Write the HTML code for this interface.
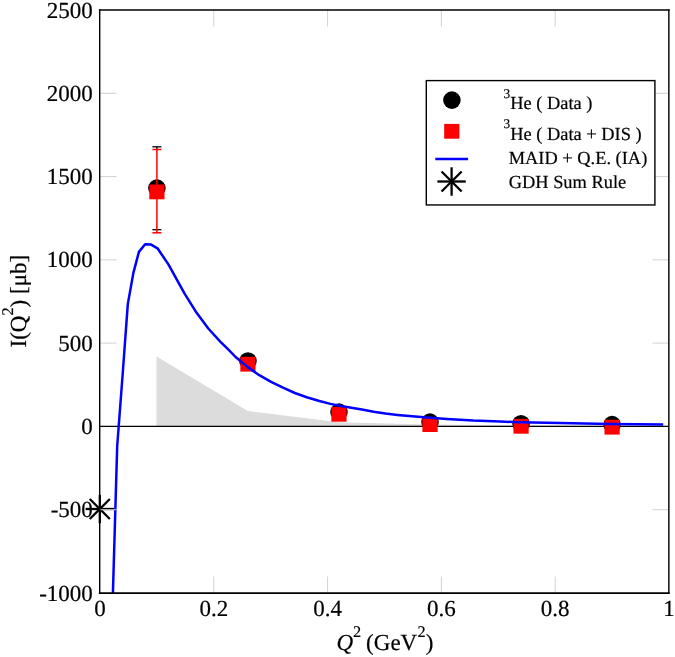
<!DOCTYPE html>
<html><head><meta charset="utf-8"><title>I(Q2)</title>
<style>html,body{margin:0;padding:0;background:#fff;}svg{display:block;will-change:transform;}text{font-family:"Liberation Serif",serif;fill:#000;stroke:#000;stroke-width:0.2px;text-rendering:geometricPrecision;}</style></head><body>
<svg width="675" height="657" viewBox="0 0 675 657">
<rect x="0" y="0" width="675" height="657" fill="#fff"/>
<polygon fill="#dcdcdc" points="156.5,426.4 156.5,356.5 247.9,411.1 339.0,422.3 430.0,424.4 521.1,425.3 612.1,425.8 612.1,426.4"/>
<line x1="100.0" y1="426.43" x2="669.0" y2="426.43" stroke="#000" stroke-width="1.3"/>
<g stroke="#000" stroke-width="1.3"><line x1="156.90" y1="146.8" x2="156.90" y2="150"/><line x1="152.40" y1="146.8" x2="161.40" y2="146.8"/><line x1="152.40" y1="229.7" x2="161.40" y2="229.7"/></g>
<circle cx="156.90" cy="188.10" r="8.8" fill="#000"/>
<circle cx="247.94" cy="361.00" r="8.8" fill="#000"/>
<circle cx="338.98" cy="412.10" r="8.8" fill="#000"/>
<circle cx="430.02" cy="422.10" r="8.8" fill="#000"/>
<circle cx="521.06" cy="423.80" r="8.8" fill="#000"/>
<circle cx="612.10" cy="424.60" r="8.8" fill="#000"/>
<g stroke="#ff0000" stroke-width="1.5" fill="none"><line x1="156.90" y1="149.50" x2="156.90" y2="232.80"/><line x1="152.40" y1="149.50" x2="161.40" y2="149.50"/><line x1="152.40" y1="232.80" x2="161.40" y2="232.80"/></g>
<rect x="149.30" y="184.50" width="15.2" height="14.8" fill="#ff0000"/>
<rect x="240.34" y="356.80" width="15.2" height="14.8" fill="#ff0000"/>
<rect x="331.38" y="406.90" width="15.2" height="14.8" fill="#ff0000"/>
<rect x="422.42" y="417.20" width="15.2" height="14.8" fill="#ff0000"/>
<rect x="513.46" y="418.90" width="15.2" height="14.8" fill="#ff0000"/>
<rect x="604.50" y="419.80" width="15.2" height="14.8" fill="#ff0000"/>
<polyline fill="none" stroke="#0000ff" stroke-width="2.5" stroke-linejoin="round" points="112.9,593.5 117.2,446.0 122.9,371.0 127.8,304.1 133.4,272.9 138.9,251.9 145.1,244.2 151.1,244.6 157.5,248.3 168.4,264.4 184.6,293.6 196.6,312.8 208.3,328.5 220.5,341.8 227.7,348.9 235.6,357.0 247.4,366.9 259.3,375.2 271.1,381.8 283.0,387.7 294.8,393.0 306.7,397.2 318.5,400.8 330.4,403.9 342.2,406.3 361.9,409.6 373.7,411.8 385.5,413.5 397.4,414.9 409.2,416.1 421.0,417.1 446.7,418.9 473.3,420.5 500.0,421.5 520.0,422.3 560.0,423.1 610.0,424.0 663.2,424.4"/>
<g stroke="#000" stroke-width="2.3" fill="none"><line x1="85.60" y1="509.00" x2="114.00" y2="509.00"/><line x1="99.80" y1="494.80" x2="99.80" y2="523.20"/><line x1="89.76" y1="498.96" x2="109.84" y2="519.04"/><line x1="89.76" y1="519.04" x2="109.84" y2="498.96"/></g>
<g stroke="#d2d2d2" stroke-width="1" fill="none"><line x1="213.80" y1="593.00" x2="213.80" y2="576.50"/><line x1="213.80" y1="10.00" x2="213.80" y2="26.50"/><line x1="327.60" y1="593.00" x2="327.60" y2="576.50"/><line x1="327.60" y1="10.00" x2="327.60" y2="26.50"/><line x1="441.40" y1="593.00" x2="441.40" y2="576.50"/><line x1="441.40" y1="10.00" x2="441.40" y2="26.50"/><line x1="555.20" y1="593.00" x2="555.20" y2="576.50"/><line x1="555.20" y1="10.00" x2="555.20" y2="26.50"/><line x1="100.00" y1="509.71" x2="116.50" y2="509.71"/><line x1="669.00" y1="509.71" x2="652.50" y2="509.71"/><line x1="100.00" y1="343.14" x2="116.50" y2="343.14"/><line x1="669.00" y1="343.14" x2="652.50" y2="343.14"/><line x1="100.00" y1="259.86" x2="116.50" y2="259.86"/><line x1="669.00" y1="259.86" x2="652.50" y2="259.86"/><line x1="100.00" y1="176.57" x2="116.50" y2="176.57"/><line x1="669.00" y1="176.57" x2="652.50" y2="176.57"/><line x1="100.00" y1="93.29" x2="116.50" y2="93.29"/><line x1="669.00" y1="93.29" x2="652.50" y2="93.29"/></g>
<g stroke="#000" stroke-linecap="square" fill="none"><line x1="99.7" y1="10" x2="99.7" y2="593.15" stroke-width="1.4"/><line x1="668.85" y1="10" x2="668.85" y2="593.15" stroke-width="1.42"/><line x1="99.7" y1="10" x2="668.85" y2="10" stroke-width="1.6"/><line x1="99.7" y1="593.15" x2="668.85" y2="593.15" stroke-width="1.7"/></g>
<text x="92.8" y="600.60" font-size="23.0" text-anchor="end">-1000</text>
<text x="92.8" y="517.31" font-size="23.0" text-anchor="end">-500</text>
<text x="92.8" y="434.03" font-size="23.0" text-anchor="end">0</text>
<text x="92.8" y="350.74" font-size="23.0" text-anchor="end">500</text>
<text x="92.8" y="267.46" font-size="23.0" text-anchor="end">1000</text>
<text x="92.8" y="184.17" font-size="23.0" text-anchor="end">1500</text>
<text x="92.8" y="100.89" font-size="23.0" text-anchor="end">2000</text>
<text x="92.8" y="17.60" font-size="23.0" text-anchor="end">2500</text>
<text x="100.00" y="616.3" font-size="23.0" text-anchor="middle">0</text>
<text x="213.80" y="616.3" font-size="23.0" text-anchor="middle">0.2</text>
<text x="327.60" y="616.3" font-size="23.0" text-anchor="middle">0.4</text>
<text x="441.40" y="616.3" font-size="23.0" text-anchor="middle">0.6</text>
<text x="555.20" y="616.3" font-size="23.0" text-anchor="middle">0.8</text>
<text x="669.00" y="616.3" font-size="23.0" text-anchor="middle">1</text>
<text x="336.4" y="649.8" font-size="23.0"><tspan font-style="italic">Q</tspan><tspan font-size="16.3" dy="-13.1">2</tspan><tspan dy="13.1" dx="-0.8"> (GeV</tspan><tspan font-size="16.3" dy="-13.1" dx="0.4">2</tspan><tspan dy="13.1">)</tspan></text>
<text transform="translate(26.2,347.5) rotate(-90)" font-size="23.0">I(Q<tspan font-size="16.3" dy="-13.7">2</tspan><tspan dy="13.7">) [μb]</tspan></text>
<rect x="426.3" y="80.6" width="228.6" height="124.35" fill="#fff" stroke="#000" stroke-width="1.4"/>
<circle cx="451.9" cy="100.1" r="8.8" fill="#000"/>
<rect x="444.2" y="123.9" width="15.2" height="14.8" fill="#ff0000"/>
<line x1="435.3" y1="159" x2="468.1" y2="159" stroke="#0000ff" stroke-width="2.3"/>
<g stroke="#000" stroke-width="2.3" fill="none"><line x1="437.40" y1="181.50" x2="465.80" y2="181.50"/><line x1="451.60" y1="167.30" x2="451.60" y2="195.70"/><line x1="441.56" y1="171.46" x2="461.64" y2="191.54"/><line x1="441.56" y1="191.54" x2="461.64" y2="171.46"/></g>
<text x="503.6" y="108.8" font-size="18.4"><tspan font-size="13.3" dy="-11.2">3</tspan><tspan dy="11.2">He ( Data )</tspan></text>
<text x="503.6" y="139.5" font-size="18.4"><tspan font-size="13.3" dy="-11.2">3</tspan><tspan dy="11.2">He ( Data + DIS )</tspan></text>
<text x="508.7" y="163.8" font-size="18.4">MAID + Q.E. (IA)</text>
<text x="508.7" y="187.8" font-size="18.4">GDH Sum Rule</text>
</svg></body></html>
